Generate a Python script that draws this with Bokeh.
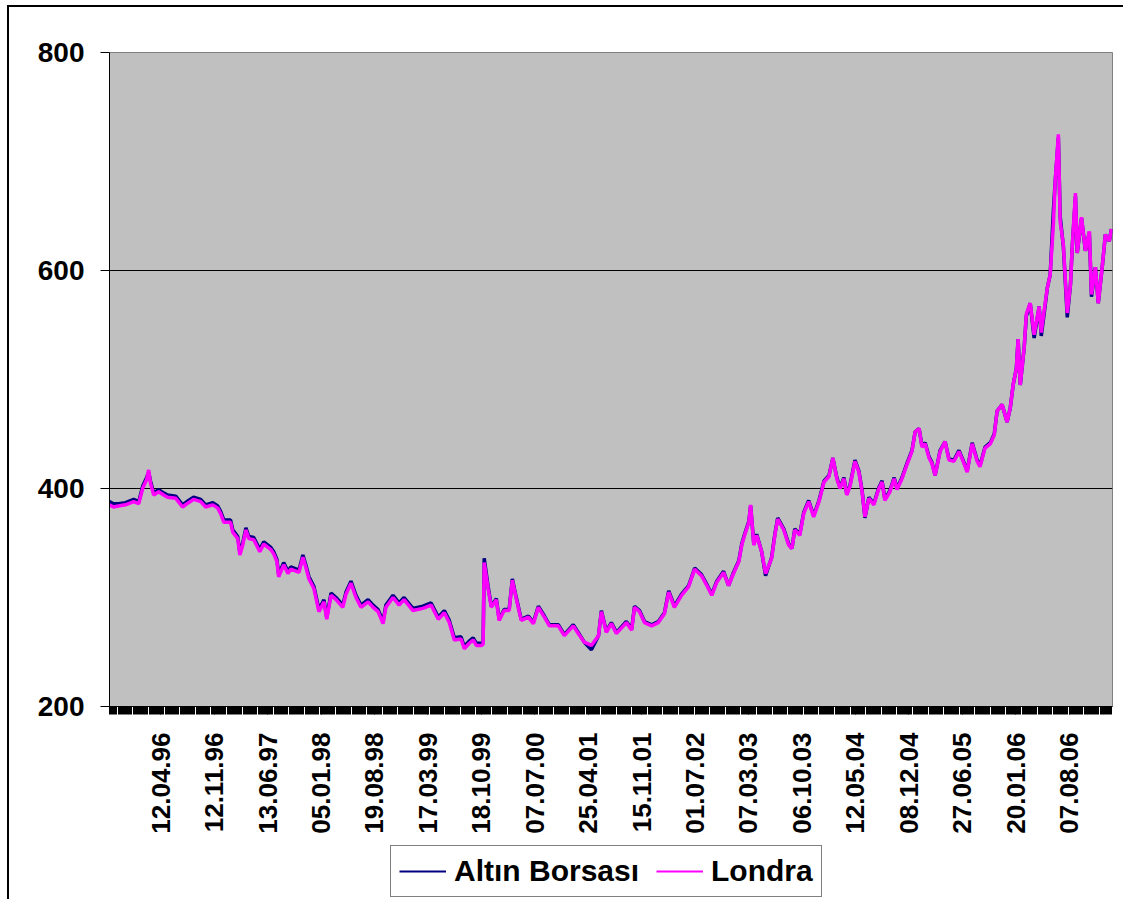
import numpy as np
from bokeh.plotting import figure
from bokeh.layouts import column
from bokeh.models import Range1d, FixedTicker, Legend, LegendItem
from bokeh.embed import file_html
from bokeh.resources import INLINE

# observation number (row in the daily price table)
obs = [0, 11, 25, 45, 68, 82, 93, 104, 110, 115,
       124, 138, 152, 163, 186, 205, 222, 236, 256, 270,
       290, 304, 312, 321, 340, 346, 360, 366, 374, 383,
       391, 405, 422, 433, 453, 461, 470, 475, 489, 501,
       509, 532, 543, 551, 560, 574, 588, 602, 610, 622,
       636, 655, 664, 678, 692, 706, 726, 740, 754, 768,
       776, 796, 813, 827, 852, 880, 903, 923, 940, 954,
       968, 987, 996, 1010, 1021, 1030, 1044, 1049, 1052, 1063,
       1072, 1086, 1094, 1108, 1122, 1131, 1142, 1156, 1176, 1190,
       1204, 1221, 1235, 1260, 1277, 1302, 1316, 1333, 1353, 1373,
       1381, 1395, 1409, 1423, 1443, 1451, 1466, 1474, 1488, 1502,
       1522, 1541, 1558, 1570, 1586, 1606, 1626, 1643, 1662, 1677,
       1691, 1705, 1724, 1738, 1752, 1767, 1775, 1783, 1795, 1800,
       1809, 1817, 1831, 1842, 1859, 1868, 1876, 1893, 1907, 1916,
       1924, 1938, 1949, 1963, 1977, 1992, 2006, 2020, 2031, 2042,
       2051, 2062, 2070, 2079, 2093, 2104, 2113, 2121, 2132, 2146,
       2160, 2169, 2177, 2191, 2203, 2211, 2225, 2239, 2253, 2262,
       2273, 2281, 2290, 2301, 2309, 2318, 2332, 2346, 2357, 2371,
       2385, 2399, 2408, 2422, 2436, 2444, 2458, 2473, 2484, 2492,
       2506, 2520, 2529, 2537, 2546, 2551, 2557, 2568, 2574, 2585,
       2596, 2610, 2616, 2624, 2633, 2641, 2650, 2655, 2664, 2669,
       2678, 2689, 2698, 2703, 2712, 2717, 2729, 2740, 2751, 2757,
       2768, 2776, 2788, 2796, 2807, 2813]

londra = [385, 383, 384, 385, 388, 386, 400, 408, 417, 405,
          394, 397, 394, 392, 391, 383, 387, 390, 388, 383,
          385, 382, 377, 369, 369, 360, 354, 339, 348, 362,
          354, 353, 342, 349, 344, 340, 333, 319, 330, 322,
          326, 323, 337, 328, 317, 308, 287, 296, 280, 302,
          298, 291, 303, 313, 300, 291, 296, 291, 287, 276,
          291, 300, 293, 298, 288, 290, 293, 280, 286, 277,
          261, 262, 253, 258, 261, 256, 256, 257, 332, 308,
          291, 298, 279, 288, 288, 316, 299, 279, 282, 276,
          291, 282, 274, 274, 265, 274, 267, 259, 256, 265,
          287, 268, 276, 267, 274, 277, 270, 291, 287, 277,
          274, 277, 285, 305, 291, 302, 310, 326, 320, 311,
          302, 314, 323, 311, 322, 333, 348, 357, 369, 385,
          348, 357, 342, 322, 336, 357, 372, 362, 348, 345,
          362, 357, 377, 388, 374, 388, 406, 411, 428, 409,
          400, 409, 394, 402, 425, 415, 397, 374, 391, 385,
          400, 406, 389, 397, 409, 399, 409, 422, 434, 452,
          455, 438, 441, 428, 423, 412, 434, 443, 426, 425,
          434, 423, 415, 441, 425, 420, 437, 441, 449, 471,
          477, 461, 474, 495, 510, 537, 495, 529, 560, 570,
          541, 567, 543, 563, 584, 596, 642, 681, 725, 645,
          624, 561, 587, 622, 671, 616, 649, 618, 636, 578,
          603, 570, 606, 633, 627, 638]

altin = [388, 386, 386, 387, 390, 388, 402, 410, 415, 407,
         396, 399, 396, 394, 393, 385, 389, 392, 390, 385,
         387, 384, 379, 371, 371, 362, 356, 341, 350, 364,
         356, 355, 344, 351, 346, 342, 335, 321, 332, 324,
         328, 325, 339, 330, 319, 310, 289, 298, 282, 304,
         300, 293, 305, 315, 302, 293, 298, 293, 289, 278,
         293, 302, 295, 300, 290, 292, 295, 282, 288, 279,
         263, 264, 255, 260, 263, 258, 258, 259, 336, 310,
         292, 299, 280, 289, 289, 317, 300, 280, 283, 277,
         292, 283, 275, 275, 266, 275, 268, 259, 252, 265,
         288, 269, 277, 268, 275, 278, 271, 292, 288, 278,
         275, 278, 286, 306, 292, 303, 311, 327, 321, 312,
         303, 315, 324, 311, 323, 334, 349, 358, 370, 384,
         349, 358, 342, 320, 337, 358, 373, 363, 349, 345,
         363, 358, 378, 389, 375, 389, 407, 412, 428, 410,
         401, 410, 395, 403, 426, 416, 398, 373, 392, 386,
         401, 407, 390, 398, 410, 400, 410, 423, 435, 452,
         455, 439, 442, 429, 424, 412, 435, 443, 427, 426,
         435, 424, 416, 442, 426, 421, 438, 442, 450, 471,
         477, 461, 474, 495, 510, 537, 495, 529, 558, 570,
         538, 567, 540, 560, 584, 596, 655, 681, 722, 650,
         622, 557, 587, 622, 668, 616, 648, 618, 635, 576,
         603, 570, 606, 633, 627, 638]

n_obs = 2816
label_obs = [144, 294, 444, 594, 744, 894, 1044, 1194, 1344,
             1494, 1644, 1794, 1944, 2094, 2244, 2394, 2544, 2694]
date_labels = ["12.04.96", "12.11.96", "13.06.97", "05.01.98", "19.08.98",
               "17.03.99", "18.10.99", "07.07.00", "25.04.01", "15.11.01",
               "01.07.02", "07.03.03", "06.10.03", "12.05.04", "08.12.04",
               "27.06.05", "20.01.06", "07.08.06"]
y_ticks = [200, 400, 600, 800]
series_names = ["Altın Borsası", "Londra"]
series_colors = ["#000080", "#FF00FF"]

FONT = "Liberation Sans"

p = figure(frame_width=1001, frame_height=652, output_backend="svg", toolbar_location=None,
           x_range=Range1d(0, n_obs), y_range=Range1d(200, 800),
           min_border_left=100, min_border_right=13, min_border_top=45,
           min_border_bottom=140)
p.styles = {"margin-left": "7px", "margin-top": "5px",
            "border-left": "2px solid black", "border-top": "2px solid black"}
p.background_fill_color = "#C0C0C0"
p.border_fill_color = "white"
p.outline_line_color = "#808080"
p.outline_line_width = 1

p.line(obs, altin, line_color=series_colors[0], line_width=3.5)
p.line(obs, londra, line_color=series_colors[1], line_width=3.5)

# axes
xa = p.xaxis[0]
xa.axis_label = None
xa.ticker = FixedTicker(ticks=label_obs, minor_ticks=list(range(0, n_obs + 1, 3)))
xa.major_label_overrides = {t: s for t, s in zip(label_obs, date_labels)}
xa.major_label_orientation = np.pi / 2
xa.major_label_text_font = FONT
xa.major_label_text_font_style = "bold"
xa.major_label_text_font_size = "26px"
xa.major_label_text_color = "black"
xa.major_label_standoff = 18
xa.major_tick_in = 0
xa.major_tick_out = 8
xa.minor_tick_in = 0
xa.minor_tick_out = 8
xa.minor_tick_line_color = "black"
xa.major_tick_line_color = "black"
xa.axis_line_color = "black"

ya = p.yaxis[0]
ya.axis_label = None
ya.ticker = FixedTicker(ticks=y_ticks)
ya.major_label_text_font = FONT
ya.major_label_text_font_style = "bold"
ya.major_label_text_font_size = "28px"
ya.major_label_text_color = "black"
ya.major_label_standoff = 16
ya.major_tick_in = 0
ya.major_tick_out = 9
ya.minor_tick_line_color = None
ya.axis_line_color = "black"

p.xgrid.grid_line_color = None
p.ygrid.grid_line_color = "black"
p.ygrid.grid_line_width = 1

# legend strip below the chart
pl = figure(width=1114, height=55, output_backend="svg", toolbar_location=None,
            x_range=Range1d(0, 1), y_range=Range1d(0, 1),
            x_axis_location=None, y_axis_location=None,
            min_border_left=0, min_border_right=0, min_border_top=0, min_border_bottom=0)
pl.styles = {"margin-left": "7px", "border-left": "2px solid black"}
pl.outline_line_color = None
pl.background_fill_color = "white"
pl.border_fill_color = "white"
pl.xgrid.grid_line_color = None
pl.ygrid.grid_line_color = None
items = []
for name, col in zip(series_names, series_colors):
    r = pl.line(np.array([np.nan]), np.array([np.nan]), line_color=col, line_width=2)
    items.append(LegendItem(label=name, renderers=[r]))

legend = Legend(items=items, orientation="horizontal", location=(281, 2))
legend.label_text_font = FONT
legend.label_text_font_style = "bold"
legend.label_text_font_size = "30px"
legend.label_text_color = "black"
legend.glyph_width = 47
legend.glyph_height = 28
legend.label_standoff = 8
legend.spacing = 17
legend.padding = 8
legend.border_line_color = "black"
legend.border_line_width = 1
legend.background_fill_color = "white"
legend.margin = 0
pl.add_layout(legend)

layout = column(p, pl, spacing=0)
open("out.html", "w").write(file_html(layout, INLINE))
